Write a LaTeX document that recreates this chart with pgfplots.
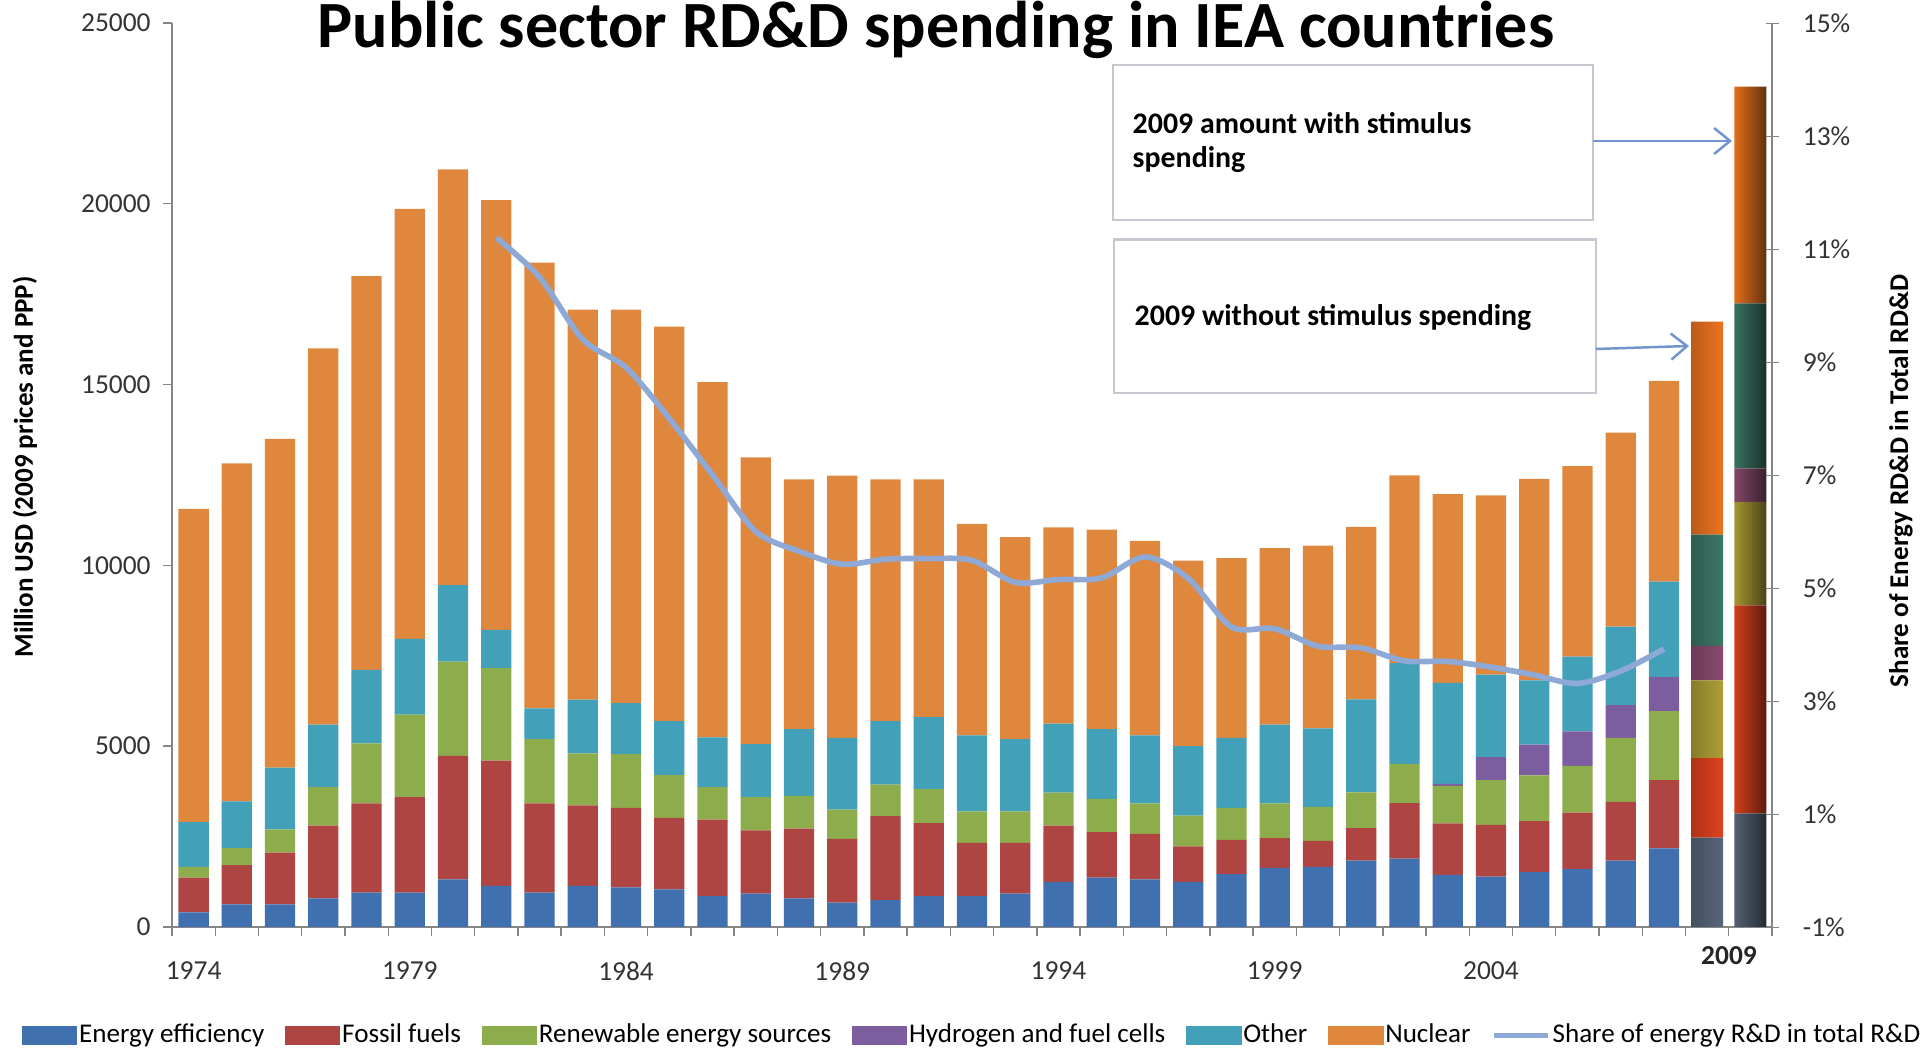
\documentclass[border=0pt]{standalone}
\usepackage{pgfplots}
\pgfplotsset{compat=1.18}
\usepackage{pgfplotstable}
\usepackage{fontspec}
\setmainfont{Carlito}
\usetikzlibrary{arrows.meta}

\definecolor{cEE}{HTML}{4070B0}
\definecolor{cFF}{HTML}{AE4542}
\definecolor{cRE}{HTML}{8DAC4C}
\definecolor{cH2}{HTML}{7C5EA0}
\definecolor{cOT}{HTML}{43A0B9}
\definecolor{cNU}{HTML}{DE873D}
\definecolor{cLN}{HTML}{8EA9D6}
\definecolor{dEE}{HTML}{5B6A7E}
\definecolor{dFF}{HTML}{E8441F}
\definecolor{dRE}{HTML}{B5A539}
\definecolor{dH2}{HTML}{8E4E72}
\definecolor{dOT}{HTML}{3E7C6B}
\definecolor{dNU}{HTML}{F7791F}
\definecolor{axgray}{HTML}{868686}
\definecolor{boxgray}{HTML}{C4C8CE}
\definecolor{arrowblue}{HTML}{7094CC}

\pgfplotsset{
  base/.style={at={(0,0)}, anchor=south west, scale only axis,
    width=16cm, height=9.04cm, xmin=-0.5, xmax=36.5},
  bev/.style={draw=none, left color=#1!75!black, right color=#1!40!black, middle color=#1},
}
\newcommand\legbar[1]{\addlegendimage{legend image code/.code={\fill[#1] (0cm,-0.085cm) rectangle (0.54cm,0.085cm);}}}

% spending by field, million USD (2009 prices and PPP); x = 0 is 1974
\pgfplotstableread{
x ee ff re h2 ot nu
0 406 960 297 0 1237 8660
1 624 1089 465 0 1297 9345
2 624 1435 644 0 1702 9095
3 792 2010 1069 0 1723 10406
4 950 2466 1663 0 2029 10892
5 950 2644 2277 0 2099 11890
6 1317 3415 2604 0 2119 11495
7 1139 3465 2554 0 1059 11883
8 950 2466 1782 0 851 12321
9 1139 2227 1436 0 1485 10783
10 1099 2198 1485 0 1406 10882
11 1040 1980 1178 0 1495 10907
12 851 2119 901 0 1376 9823
13 921 1752 921 0 1465 7931
14 792 1931 900 0 1852 6905
15 673 1762 812 0 1980 7253
16 743 2326 871 0 1753 6687
17 851 2020 941 0 1990 6578
18 851 1476 871 0 2099 5853
19 921 1406 871 0 2000 5582
20 1247 1555 911 0 1910 5427
21 1366 1258 920 0 1931 5515
22 1317 1257 842 0 1881 5383
23 1247 981 851 0 1921 5130
24 1465 941 891 0 1930 4973
25 1634 821 961 0 2178 4886
26 1660 720 940 0 2170 5060
27 1836 901 987 0 2568 4774
28 1889 1538 1082 0 2791 5190
29 1443 1422 1040 50 2793 5222
30 1390 1432 1242 636 2281 4955
31 1517 1411 1263 849 1782 5571
32 1602 1560 1294 955 2069 5263
33 1836 1623 1772 902 2175 5362
34 2175 1889 1909 934 2642 5551
}\rdd

% 2009 without (35) and with (36) stimulus spending
\pgfplotstableread{
x ee ff re h2 ot nu
35 2472 2196 2154 955 3077 5887
36 3141 5750 2865 928 4564 5993
}\stim

% share of energy R&D in total R&D, percent
\pgfplotstableread{
x p
7 11.2
8 10.5
9 9.4
10 8.9
11 8.0
12 7.0
13 6.0
14 5.65
15 5.42
16 5.51
17 5.52
18 5.49
19 5.1
20 5.15
21 5.18
22 5.55
23 5.17
24 4.31
25 4.28
26 3.97
27 3.94
28 3.71
29 3.70
30 3.60
31 3.46
32 3.31
33 3.53
34 3.92
}\share

\begin{document}
\begin{tikzpicture}
\begin{axis}[base, ymin=0, ymax=25000,
  ybar stacked, bar width=0.7,
  axis x line=bottom, axis y line=left,
  axis line style={draw=axgray, -},
  tick style={draw=axgray, thin},
  tick align=outside, major tick length=0.09cm,
  xtick={-0.5,0.5,...,36.5}, xticklabels={},
  extra x ticks={0,5,10,15,20,25,30},
  extra x tick labels={1974,1979,1984,1989,1994,1999,2004},
  extra x tick style={major tick length=0pt},
  ytick={0,5000,10000,15000,20000,25000},
  yticklabels={0,5000,10000,15000,20000,25000},
  tick label style={font=\fontsize{7.8}{9}\selectfont, text=black!80},
  x tick label style={yshift=-0.22cm},
  y tick label style={inner ysep=0pt},
  clip=false]
\addplot[fill=cEE, draw=none] table[x=x, y=ee] {\rdd};
\addplot[fill=cFF, draw=none] table[x=x, y=ff] {\rdd};
\addplot[fill=cRE, draw=none] table[x=x, y=re] {\rdd};
\addplot[fill=cH2, draw=none] table[x=x, y=h2] {\rdd};
\addplot[fill=cOT, draw=none] table[x=x, y=ot] {\rdd};
\addplot[fill=cNU, draw=none] table[x=x, y=nu] {\rdd};
\end{axis}

\begin{axis}[base, ymin=0, ymax=25000, hide axis, ybar stacked, bar width=0.74]
\addplot[bev=dEE] table[x=x, y=ee] {\stim};
\addplot[bev=dFF] table[x=x, y=ff] {\stim};
\addplot[bev=dRE] table[x=x, y=re] {\stim};
\addplot[bev=dH2] table[x=x, y=h2] {\stim};
\addplot[bev=dOT] table[x=x, y=ot] {\stim};
\addplot[bev=dNU] table[x=x, y=nu] {\stim};
\end{axis}

\begin{axis}[base, ymin=-1, ymax=15,
  axis x line=none, axis y line=right,
  axis line style={draw=axgray, -},
  ytick={-1,1,...,15},
  yticklabels={-1\%,1\%,3\%,5\%,7\%,9\%,11\%,13\%,15\%},
  tick align=center, major tick length=0.13cm, tick style={draw=axgray},
  tick label style={font=\fontsize{7.8}{9}\selectfont, text=black!80},
  y tick label style={xshift=0.12cm, inner ysep=0pt},
  legend style={at={(0.5,-0.12)}, anchor=center, draw=none, fill=none,
    legend columns=-1, font=\fontsize{7.7}{9}\selectfont,
    /tikz/every even column/.append style={column sep=0.19cm},
    nodes={inner xsep=0.5pt}}]
\legbar{cEE}\addlegendentry{Energy efficiency}
\legbar{cFF}\addlegendentry{Fossil fuels}
\legbar{cRE}\addlegendentry{Renewable energy sources}
\legbar{cH2}\addlegendentry{Hydrogen and fuel cells}
\legbar{cOT}\addlegendentry{Other}
\legbar{cNU}\addlegendentry{Nuclear}
\addplot[cLN, line width=1.6pt, smooth,
  legend image code/.code={\draw[cLN, line width=1.6pt] (0cm,0cm) -- (0.54cm,0cm);}]
  table[x=x, y=p] {\share};
\addlegendentry{Share of energy R\&D in total R\&D}
\end{axis}

\node[font=\bfseries\fontsize{18.8}{22}\selectfont, anchor=base] at (7.64,8.79)
  {Public sector RD\&D spending in IEA countries};
\node[rotate=90, font=\bfseries\fontsize{7.7}{9}\selectfont] at (-1.47,4.6)
  {Million USD (2009 prices and PPP)};
\node[rotate=90, font=\bfseries\fontsize{7.7}{9}\selectfont] at (17.29,4.46)
  {Share of Energy RD\&D in Total RD\&D};
\node[font=\bfseries\fontsize{7.8}{9}\selectfont, text=black!85] at (15.57,-0.29) {2009};

\draw[boxgray, line width=0.8pt, fill=white] (9.41,7.07) rectangle (14.21,8.62);
\draw[boxgray, line width=0.8pt, fill=white] (9.42,5.34) rectangle (14.24,6.875);
\node[font=\bfseries\fontsize{8.5}{10}\selectfont, anchor=base west, inner sep=0pt] at (9.60,7.935) {2009 amount with stimulus};
\node[font=\bfseries\fontsize{8.5}{10}\selectfont, anchor=base west, inner sep=0pt] at (9.60,7.59) {spending};
\node[font=\bfseries\fontsize{8.5}{10}\selectfont, anchor=base west, inner sep=0pt] at (9.62,6.01) {2009 without stimulus spending};
\draw[arrowblue, line width=0.7pt, -{Straight Barb[length=1.6mm, width=2.6mm]}] (14.21,7.86) -- (15.60,7.86);
\draw[arrowblue, line width=0.7pt, -{Straight Barb[length=1.6mm, width=2.6mm]}] (14.24,5.78) -- (15.17,5.81);

\pgfresetboundingbox
\useasboundingbox (-1.72,-1.22) rectangle (17.54,9.27);
\end{tikzpicture}
\end{document}
